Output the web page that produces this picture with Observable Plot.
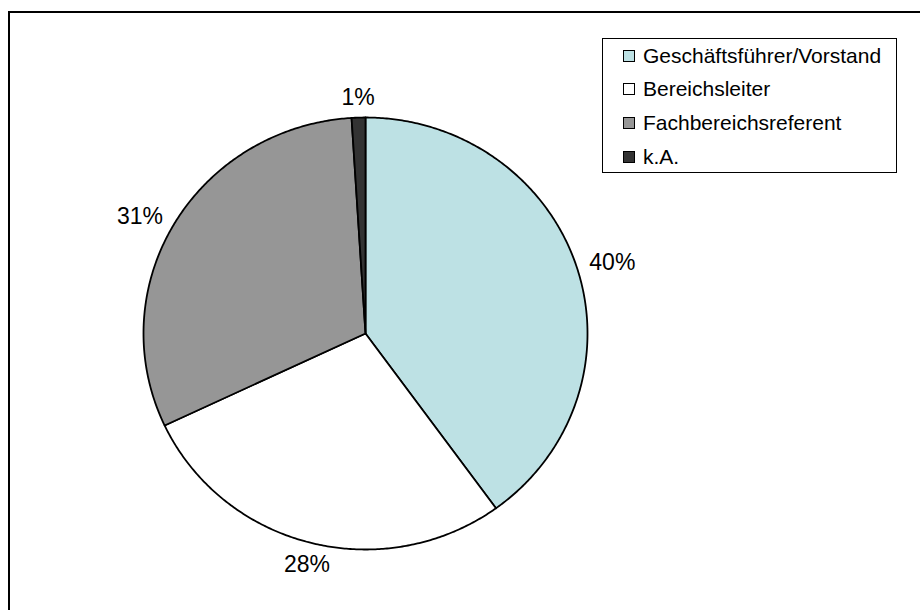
<!DOCTYPE html>
<html><head><meta charset="utf-8">
<script src="https://cdn.jsdelivr.net/npm/d3@7"></script>
<script src="https://cdn.jsdelivr.net/npm/@observablehq/plot@0.6"></script>
<style>
html,body{margin:0;padding:0;background:#fff;}
#wrap{position:relative;width:920px;height:610px;overflow:hidden;font-family:"Liberation Sans",Arial,sans-serif;}
#frame{position:absolute;left:8px;top:11px;width:1000px;height:1000px;border:2px solid #000;box-sizing:border-box;}
#chart{position:absolute;left:0;top:0;}
#legend{position:absolute;left:602px;top:38px;width:295px;height:135px;border:1px solid #000;box-sizing:border-box;background:#fff;}
.row{height:33.6px;display:flex;align-items:center;font-size:21px;color:#000;}
.sw{width:12px;height:12px;border:1px solid #000;box-sizing:border-box;margin-left:20px;margin-right:8px;}
</style></head>
<body><div id="wrap"><div id="frame"></div><div id="chart"></div><div id="legend"></div></div>
<script>
const categories = ["Geschäftsführer/Vorstand","Bereichsleiter","Fachbereichsreferent","k.A."];
const shares = [40, 28, 31, 1];
const labels = ["40%","28%","31%","1%"];
const colors = ["#BDE1E4","#FFFFFF","#969696","#333333"];

const total = d3.sum(shares);
let cum = 0;
const slices = categories.map((c,i) => {
  const a0 = cum/total*2*Math.PI; cum += shares[i];
  const a1 = cum/total*2*Math.PI;
  const n = Math.max(2, Math.ceil((a1-a0)/(Math.PI/360)));
  const pts = [{x:0,y:0}];
  for (let k=0;k<=n;k++){ const a=a0+(a1-a0)*k/n; pts.push({x:Math.sin(a),y:Math.cos(a)}); }
  pts.push({x:0,y:0});
  const mid=(a0+a1)/2;
  return {category:c,color:colors[i],label:labels[i],pts,mid};
});
const g = 1.06;
const labelData = slices.map(s => {
  const sx=Math.sin(s.mid), cy=Math.cos(s.mid);
  return {x:sx*g,y:cy*g,label:s.label,
    ta: sx>0.3?"start":(sx<-0.3?"end":"middle"),
    la: Math.abs(sx)>0.3?"middle":(cy>0?"bottom":"top")};
});

const W=920,H=610, cx=365, cy=333, rx=222, ry=216;
const marks = slices.map(s => Plot.line(s.pts,{x:"x",y:"y",fill:s.color,stroke:"#000",strokeWidth:1.8,strokeLinejoin:"round",curve:"linear"}));
for (const ta of ["start","middle","end"]) for (const la of ["top","middle","bottom"]) {
  const d = labelData.filter(l=>l.ta===ta&&l.la===la);
  if (d.length) marks.push(Plot.text(d,{x:"x",y:"y",text:"label",textAnchor:ta,lineAnchor:la,fontSize:23,fill:"#000"}));
}
const chart = Plot.plot({
  width:W,height:H,margin:0,
  style:{fontFamily:'"Liberation Sans",Arial,sans-serif',background:"transparent"},
  x:{domain:[-cx/rx,(W-cx)/rx],axis:null},
  y:{domain:[-(H-cy)/ry,cy/ry],axis:null},
  marks
});
document.getElementById("chart").appendChild(chart);

const leg = document.getElementById("legend");
categories.forEach((c,i)=>{
  const r=document.createElement("div"); r.className="row";
  const s=document.createElement("div"); s.className="sw"; s.style.background=colors[i];
  const t=document.createElement("span"); t.textContent=c;
  r.appendChild(s); r.appendChild(t); leg.appendChild(r);
});
</script></body></html>
